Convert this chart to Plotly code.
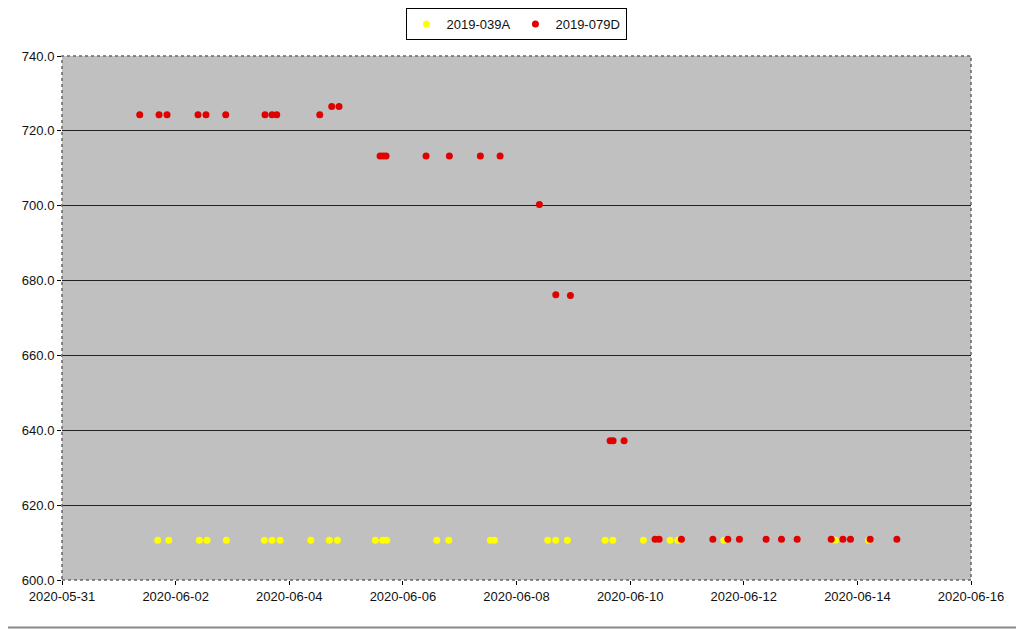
import plotly.graph_objects as go

# 2019-039A (yellow)
a_times = [
    "2020-06-01 16:26", "2020-06-01 21:05", "2020-06-02 10:01", "2020-06-02 13:16",
    "2020-06-02 21:26", "2020-06-03 13:29", "2020-06-03 16:44", "2020-06-03 20:07",
    "2020-06-04 09:05", "2020-06-04 16:57", "2020-06-04 20:20", "2020-06-05 12:23",
    "2020-06-05 15:30", "2020-06-05 17:12", "2020-06-06 14:20", "2020-06-06 19:24",
    "2020-06-07 12:58", "2020-06-07 14:40", "2020-06-08 13:13", "2020-06-08 16:36",
    "2020-06-08 21:30", "2020-06-09 13:26", "2020-06-09 16:41", "2020-06-10 05:37",
    "2020-06-10 16:54", "2020-06-10 20:10", "2020-06-11 15:36", "2020-06-13 14:44",
    "2020-06-14 04:41",
]
a_values = [610.6] * len(a_times)

# 2019-079D (red)
d_times = [
    "2020-06-01 08:50", "2020-06-01 17:00", "2020-06-01 20:22", "2020-06-02 09:27",
    "2020-06-02 12:50", "2020-06-02 21:10", "2020-06-03 13:46", "2020-06-03 16:44",
    "2020-06-03 18:43", "2020-06-04 12:53", "2020-06-04 17:57", "2020-06-04 21:02",
    "2020-06-05 14:22", "2020-06-05 15:38", "2020-06-05 16:54", "2020-06-06 09:48",
    "2020-06-06 19:39", "2020-06-07 08:44", "2020-06-07 17:04", "2020-06-08 09:40",
    "2020-06-08 16:36", "2020-06-08 22:47", "2020-06-09 15:33", "2020-06-09 16:49",
    "2020-06-09 21:27", "2020-06-10 10:33", "2020-06-10 12:15", "2020-06-10 21:40",
    "2020-06-11 10:57", "2020-06-11 17:17", "2020-06-11 22:10", "2020-06-12 09:27",
    "2020-06-12 15:56", "2020-06-12 22:34", "2020-06-13 12:56", "2020-06-13 17:53",
    "2020-06-13 21:05", "2020-06-14 05:24", "2020-06-14 16:41",
]
d_values = [
    724.3, 724.3, 724.3, 724.3, 724.3, 724.3, 724.3, 724.3,
    724.3, 724.3, 726.5, 726.5, 713.3, 713.3, 713.3, 713.3,
    713.3, 713.3, 713.3, 700.3, 676.2, 676.0, 637.2, 637.2,
    637.2, 610.9, 610.9, 610.9, 610.9, 610.9, 610.9, 610.9,
    610.9, 610.9, 610.9, 610.9, 610.9, 610.9, 610.9,
]

font_family = "Liberation Sans, Arial, sans-serif"

fig = go.Figure()
fig.add_trace(go.Scatter(
    x=a_times, y=a_values, mode="markers", name="2019-039A",
    marker=dict(color="#FFFF00", size=7, line=dict(width=0)),
))
fig.add_trace(go.Scatter(
    x=d_times, y=d_values, mode="markers", name="2019-079D",
    marker=dict(color="#E00000", size=7, line=dict(width=0)),
))

# page has an 8px body margin, so the figure is offset by (8, 8)
fig.update_layout(
    width=1016, height=621,
    margin=dict(l=54, r=53, t=48, b=49, autoexpand=False),
    paper_bgcolor="white",
    plot_bgcolor="#C0C0C0",
    font=dict(family=font_family, size=13, color="#111111"),
    showlegend=True,
    legend=dict(
        orientation="h", x=(516 - 62) / 909, xanchor="center",
        y=1.0, yref="container", yanchor="top",
        bgcolor="white", bordercolor="#000000", borderwidth=1,
        font=dict(size=13), itemwidth=30, tracegroupgap=0,
    ),
    xaxis=dict(
        type="date",
        range=["2020-05-31", "2020-06-16"],
        dtick=2 * 86400000, tick0="2020-05-31",
        tickformat="%Y-%m-%d",
        showgrid=False, zeroline=False,
        ticks="outside", ticklen=4, tickcolor="#000000",
        showline=False, automargin=False,
    ),
    yaxis=dict(
        range=[600, 740], dtick=20, tickformat=".1f",
        showgrid=True, gridcolor="#222222", gridwidth=1,
        zeroline=False,
        ticks="outside", ticklen=4, tickcolor="#000000",
        showline=False, automargin=False,
    ),
)

# dotted plot-area border
fig.add_shape(type="rect", xref="paper", yref="paper", x0=0, y0=0, x1=1, y1=1,
              line=dict(color="#666666", width=1.5, dash="dot"), layer="above")
# outer frame lines (right and bottom)
fig.add_shape(type="line", xref="paper", yref="paper",
              x0=(1021 - 62) / 909, x1=(1021 - 62) / 909, y0=(580 - 628) / 524, y1=(580 + 8) / 524,
              line=dict(color="#aaaaaa", width=2))
fig.add_shape(type="line", xref="paper", yref="paper",
              x0=(0 - 70) / 909, x1=(1022 - 62) / 909, y0=(580 - 627.5) / 524, y1=(580 - 627.5) / 524,
              line=dict(color="#888888", width=2))

fig.write_html("out.html")
